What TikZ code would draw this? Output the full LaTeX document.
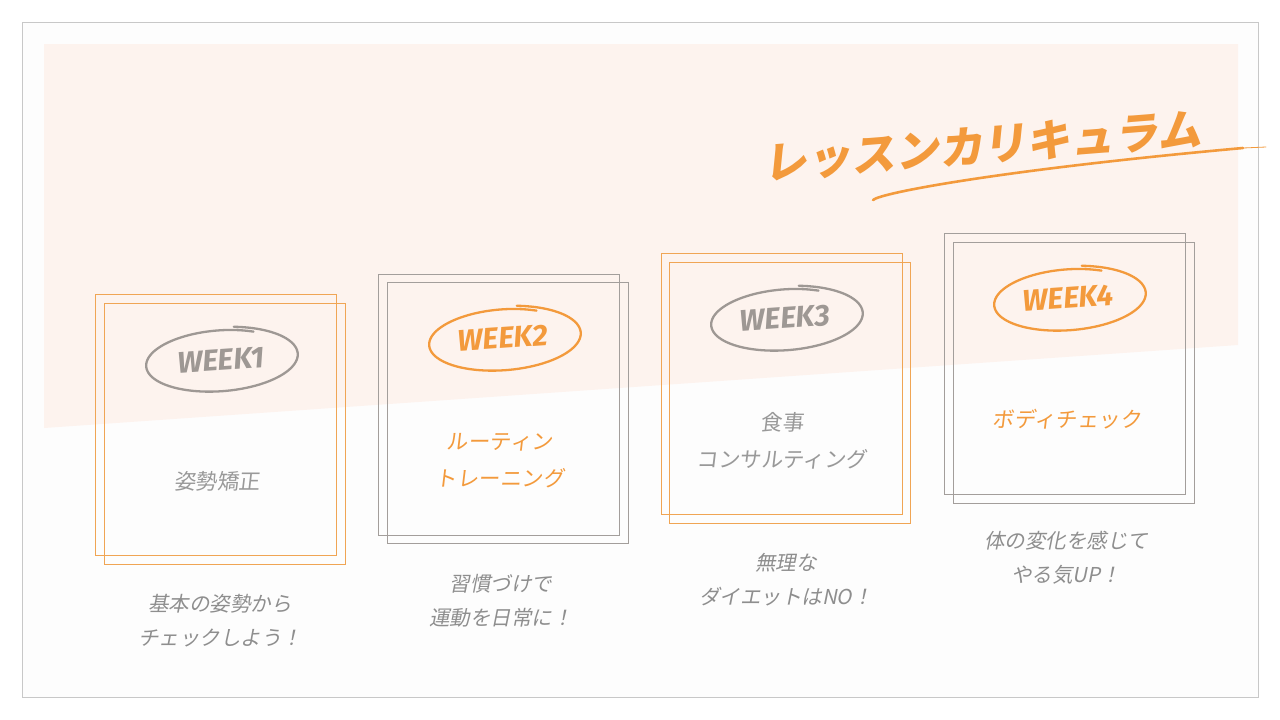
\documentclass[tikz,border=0pt]{standalone}
\usepackage{fontspec}
\setmainfont{Noto Sans CJK JP}
\newfontfamily\jpslant{Noto Sans CJK JP}[FakeSlant=0.2]
\newfontfamily\jplabel{Noto Sans CJK JP}[FakeSlant=0.12]
\newfontfamily\jptitle{Noto Sans CJK JP}[FakeSlant=0.18]
\newfontfamily\weekfont{Fira Sans}
\definecolor{peach}{HTML}{FDF3EE}
\definecolor{orng}{HTML}{F39A3C}
\definecolor{boxorng}{HTML}{F0A554}
\definecolor{boxgray}{HTML}{A39E9B}
\definecolor{txtgray}{HTML}{8E8E8E}
\definecolor{lblgray}{HTML}{999999}
\definecolor{framegray}{HTML}{C8C8C8}
\definecolor{ovalgray}{HTML}{9E9894}
\definecolor{inner}{HTML}{FDFDFD}
\tikzset{
  cardbox/.style={draw=#1, line width=0.9, minimum width=241, minimum height=261, inner sep=0, outer sep=0},
  weektag/.style={text=#1, font=\weekfont\bfseries\itshape\fontsize{30}{30}\selectfont, rotate=4, inner sep=0},
  cardlabel/.style={text=#1, font=\jplabel\fontsize{21.5}{37}\selectfont, align=center, inner sep=0},
  notetext/.style={text=txtgray, font=\jpslant\fontsize{20.5}{34}\selectfont, align=center, inner sep=0},
}
\newcommand\weekoval[3]{%
  \draw[#3, line width=2.3, line cap=round, line join=round]
    plot[domain=62:440, samples=120, smooth]
    ({#1+75*(0.95+0.11*(\x-62)/378)*cos(\x)},
     {#2-31*(0.95+0.11*(\x-62)/378)*sin(\x)-5*cos(\x)});
}
\begin{document}
\begin{tikzpicture}[x=1pt,y=-1pt]
\useasboundingbox (0,0) rectangle (1280,720);
% frame and background band
\filldraw[fill=inner, draw=framegray, line width=1] (22,22) rectangle (1258,697);
\fill[peach] (44,44) -- (1238,44) -- (1238,345) -- (44,428) -- cycle;
% title
\node[text=orng, font=\jptitle\bfseries\fontsize{44}{44}\selectfont, rotate=4.5, inner sep=0] (title) at (982,146) {レッスンカリキュラム};
\draw[orng, line width=2.6, line cap=round] (873,200) .. controls (880,193) and (1000,170) .. (1243,148);
\draw[orng, line width=0.8, line cap=round] (1243,148) -- (1266,147);
% cards
\node[cardbox=boxorng] (c1a) at (216,425) {};
\node[cardbox=boxorng] (c1b) at (224.5,433.5) {};
\node[cardbox=boxgray] (c2a) at (498.5,405) {};
\node[cardbox=boxgray] (c2b) at (507.5,412.5) {};
\node[cardbox=boxorng] (c3a) at (781.5,384) {};
\node[cardbox=boxorng] (c3b) at (789.5,392.5) {};
\node[cardbox=boxgray] (c4a) at (1064.5,363.5) {};
\node[cardbox=boxgray] (c4b) at (1073.5,372.5) {};
% week ovals
\weekoval{220}{360}{ovalgray}
\weekoval{503}{339}{orng}
\weekoval{785}{319}{ovalgray}
\weekoval{1068}{299}{orng}
\node[weektag=ovalgray] (w1) at (221,360) {WEEK1};
\node[weektag=orng] (w2) at (503,338) {WEEK2};
\node[weektag=ovalgray] (w3) at (785,318) {WEEK3};
\node[weektag=orng] (w4) at (1068,298) {WEEK4};
% card labels
\node[cardlabel=lblgray] (l1) at (217,481) {姿勢矯正};
\node[cardlabel=orng] (l2) at (500,461) {ルーティン\\トレーニング};
\node[cardlabel=lblgray] (l3) at (782,441) {食事\\コンサルティング};
\node[cardlabel=orng] (l4) at (1067,419) {ボディチェック};
% notes
\node[notetext] (n1) at (220,621) {基本の姿勢から\\チェックしよう！};
\node[notetext] (n2) at (501,601) {習慣づけで\\運動を日常に！};
\node[notetext] (n3) at (786,580) {無理な\\ダイエットはNO！};
\node[notetext] (n4) at (1066,558) {体の変化を感じて\\やる気UP！};
\end{tikzpicture}
\end{document}
